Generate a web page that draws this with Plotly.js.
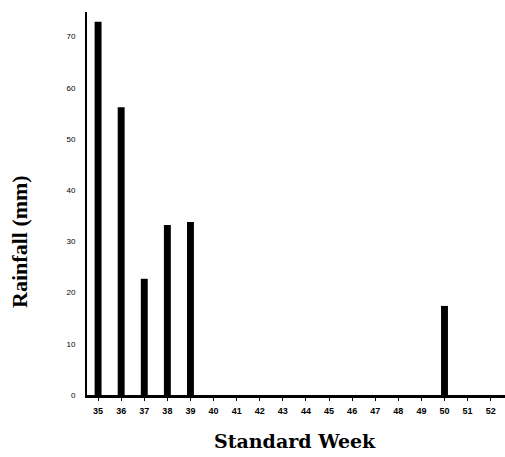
<!DOCTYPE html>
<html><head><meta charset="utf-8">
<script src="https://cdn.plot.ly/plotly-3.0.1.min.js"></script>
<style>html,body{margin:0;padding:0;background:#fff}#chart{width:505px;height:457px}</style>
</head><body><div id="chart"></div>
<script>
const weeks = [35,36,37,38,39,40,41,42,43,44,45,46,47,48,49,50,51,52];
const rainfall = [72.9,56.2,22.7,33.2,33.8,0,0,0,0,0,0,0,0,0,0,17.4,0,0];
const yTicks = [0,10,20,30,40,50,60,70];

Plotly.newPlot('chart', [{
  type: 'bar', x: weeks, y: rainfall, width: 0.3,
  marker: {color: '#000'}, hoverinfo: 'x+y'
}], {
  width: 505, height: 457,
  margin: {l: 87, r: 0, t: 12, b: 62},
  paper_bgcolor: '#fff', plot_bgcolor: '#fff',
  showlegend: false,
  font: {family: 'Liberation Serif, serif', color: '#000'},
  xaxis: {
    range: [34.52, 52.62], tickvals: weeks, ticktext: weeks.map(String),
    showline: true, linecolor: '#000', linewidth: 3,
    ticks: 'outside', ticklen: 3, tickcolor: '#000', tickwidth: 1,
    showgrid: false, zeroline: false,
    tickfont: {family: 'Liberation Sans, sans-serif', size: 9, color: '#000', weight: 'bold'},
    ticklabelstandoff: 2
  },
  yaxis: {
    range: [0, 74.8], tickvals: yTicks,
    showline: true, linecolor: '#000', linewidth: 2,
    ticks: '', showgrid: false, zeroline: false,
    tickfont: {family: 'Liberation Sans, sans-serif', size: 8, color: '#000'},
    ticklabelstandoff: 8
  },
  annotations: [
    {text: 'Standard Week', xref: 'paper', yref: 'paper', x: 0.498, y: -0.12,
     xanchor: 'center', yanchor: 'middle', showarrow: false,
     font: {family: 'DejaVu Serif, serif', size: 19, color: '#000', weight: 'bold'}},
    {text: 'Rainfall (mm)', xref: 'paper', yref: 'paper', x: -0.163, y: 0.402,
     xanchor: 'center', yanchor: 'middle', showarrow: false, textangle: -90,
     font: {family: 'Liberation Serif, serif', size: 22, color: '#000', weight: 'bold'}}
  ]
}, {displayModeBar: false, staticPlot: true});
</script></body></html>
